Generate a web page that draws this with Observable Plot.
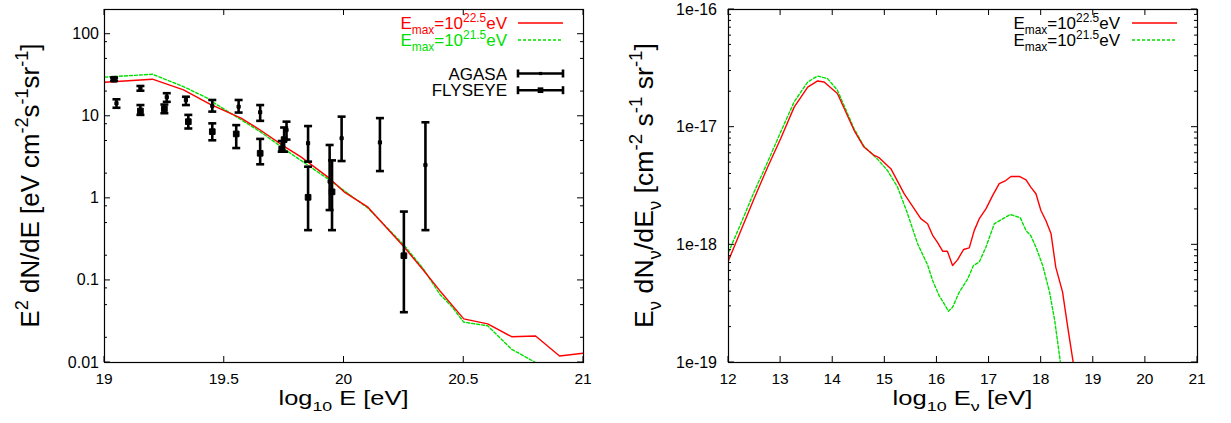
<!DOCTYPE html>
<html><head><meta charset="utf-8">
<script src="https://cdn.jsdelivr.net/npm/d3@7"></script>
<script src="https://cdn.jsdelivr.net/npm/@observablehq/plot@0.6"></script>
<style>
body{margin:0;background:#fff;}
#wrap{display:flex;width:1231px;height:423px;background:#fff;}
svg text{font-family:"Liberation Sans",Arial,Helvetica,sans-serif;white-space:pre;}
</style></head><body><div id="wrap"></div>
<script>
// ---------- Left panel: E^2 dN/dE vs log10 E ----------
const crLogE = [19.0, 19.2, 19.33, 19.44, 19.57, 19.65, 19.75, 19.82, 19.94, 20.0, 20.1, 20.25, 20.33, 20.4, 20.5, 20.6, 20.7, 20.8, 20.9, 21.0];
const crHigh = [26, 28.3, 21, 14.1, 9.5, 6.8, 4.3, 3.2, 1.75, 1.2, 0.78, 0.257, 0.135, 0.075, 0.034, 0.0295, 0.0206, 0.021, 0.012, 0.013];
const crLogE2 = [19.0, 19.2, 19.33, 19.43, 19.46, 19.65, 19.75, 19.82, 19.94, 20.1, 20.25, 20.33, 20.4, 20.45, 20.5, 20.6, 20.7, 20.8];
const crLow = [30, 32.5, 23, 16.6, 14.4, 6.5, 4.0, 2.9, 1.67, 0.76, 0.27, 0.14, 0.068, 0.048, 0.031, 0.028, 0.0145, 0.01];

const agasaE  = [19.05, 19.15, 19.26, 19.34, 19.45, 19.56, 19.65, 19.76, 19.85, 19.94, 19.99, 20.15, 20.34];
const agasaY  = [14.4, 21.9, 17.1, 15.8, 13.4, 13.1, 11.2, 6.8, 4.7, 1.6, 5.4, 4.8, 2.55];
const agasaLo = [12.7, 20.5, 15.0, 13.7, 11.4, 11.1, 8.8, 5.2, 2.8, 0.72, 2.85, 2.15, 0.41];
const agasaHi = [16.1, 23.4, 19.1, 17.3, 15.8, 15.8, 13.7, 8.6, 7.6, 4.47, 9.9, 9.5, 8.45];

const flyE  = [19.04, 19.15, 19.25, 19.35, 19.45, 19.55, 19.65, 19.75, 19.74, 19.85, 19.95, 20.25];
const flyY  = [28.3, 11.6, 12.3, 8.6, 6.5, 6.1, 3.54, 5.2, 4.0, 1.03, 1.2, 0.2];
const flyLo = [27.0, 10.4, 10.9, 7.1, 5.1, 4.1, 2.6, 3.7, 3.7, 0.41, 0.41, 0.041];
const flyHi = [29.6, 13.7, 13.9, 10.4, 8.2, 7.8, 5.3, 7.3, 5.0, 2.43, 2.9, 0.69];

const leftXTicks = [19, 19.5, 20, 20.5, 21];
const leftXLabels = ["19", "19.5", "20", "20.5", "21"];
const leftYTicks = [0.01, 0.1, 1, 10, 100];
const leftYLabels = ["0.01", "0.1", "1", "10", "100"];
const leftYMinorMult = [2, 5, 8];

// ---------- Right panel: neutrino flux ----------
const nuLogE1 = [12.0, 12.236, 12.49, 12.75, 13.0, 13.26, 13.52, 13.71, 13.835, 14.09, 14.41, 14.6, 14.795, 14.89, 15.115, 15.37, 15.69, 15.82, 15.915, 16.01, 16.11, 16.2, 16.3, 16.395, 16.51, 16.62, 16.715, 16.81, 16.94, 17.07, 17.195, 17.32, 17.42, 17.58, 17.71, 17.8, 17.9, 17.995, 18.09, 18.19, 18.28, 18.41, 18.51, 18.615];
const nuHigh = [7.35e-19, 1.32e-18, 2.46e-18, 4.57e-18, 7.98e-18, 1.48e-17, 2.19e-17, 2.47e-17, 2.42e-17, 1.93e-17, 9.4e-18, 6.78e-18, 5.75e-18, 5.5e-18, 4.44e-18, 2.72e-18, 1.67e-18, 1.51e-18, 1.21e-18, 1.05e-18, 8.83e-19, 8.83e-19, 6.67e-19, 7.45e-19, 9.12e-19, 9.42e-19, 1.32e-18, 1.66e-18, 2.02e-18, 2.63e-18, 3.31e-18, 3.52e-18, 3.81e-18, 3.81e-18, 3.57e-18, 3.09e-18, 2.72e-18, 1.96e-18, 1.61e-18, 1.24e-18, 6.46e-19, 3.98e-19, 2.0e-19, 1.0e-19];
const nuLogE2 = [12.0, 12.236, 12.49, 12.75, 13.0, 13.26, 13.52, 13.71, 13.9, 14.09, 14.41, 14.6, 14.85, 15.05, 15.245, 15.436, 15.63, 15.82, 15.915, 16.04, 16.14, 16.22, 16.3, 16.43, 16.59, 16.70, 16.81, 16.94, 17.10, 17.26, 17.405, 17.60, 17.71, 17.80, 17.90, 18.03, 18.16, 18.26, 18.37];
const nuLow = [8.65e-19, 1.51e-18, 2.81e-18, 5.05e-18, 9.08e-18, 1.64e-17, 2.42e-17, 2.72e-17, 2.59e-17, 2.06e-17, 9.7e-18, 6.87e-18, 5.4e-18, 4.29e-18, 3.09e-18, 1.84e-18, 1.02e-18, 6.76e-19, 5.01e-19, 3.72e-19, 3.15e-19, 2.72e-19, 2.95e-19, 3.98e-19, 5.13e-19, 6.67e-19, 7.11e-19, 9.55e-19, 1.51e-18, 1.66e-18, 1.81e-18, 1.70e-18, 1.32e-18, 1.2e-18, 9.55e-19, 6.67e-19, 3.98e-19, 2.27e-19, 1.0e-19];

const rightXTicks = [12, 13, 14, 15, 16, 17, 18, 19, 20, 21];
const rightXLabels = ["12", "13", "14", "15", "16", "17", "18", "19", "20", "21"];
const rightYTicks = [1e-19, 1e-18, 1e-17, 1e-16];
const rightYLabels = ["1e-19", "1e-18", "1e-17", "1e-16"];
const rightYMinorMult = [2, 3, 4, 5, 6, 7, 8, 9];

const legendLines = [
  {base: "E", sub: "max", mid: "=10", sup: "22.5", end: "eV"},
  {base: "E", sub: "max", mid: "=10", sup: "21.5", end: "eV"}
];

const RED = "#ff0000", GREEN = "#00e000";
const FONT = '"Liberation Sans", Arial, Helvetica, sans-serif';

const capSymbol = {draw(ctx, size) { const r = Math.sqrt(size / Math.PI); ctx.moveTo(-r, 0); ctx.lineTo(r, 0); }};

function errMarks(xs, ys, lo, hi, r) {
  const d = xs.map((x, i) => ({x, y: ys[i], lo: lo[i], hi: hi[i]}));
  return [
    Plot.ruleX(d, {x: "x", y1: "lo", y2: "hi", stroke: "#000", strokeWidth: 2.6}),
    Plot.dot(d, {x: "x", y: "lo", symbol: capSymbol, r: 4, stroke: "#000", strokeWidth: 2.6, fill: "none"}),
    Plot.dot(d, {x: "x", y: "hi", symbol: capSymbol, r: 4, stroke: "#000", strokeWidth: 2.6, fill: "none"}),
    Plot.dot(d, {x: "x", y: "y", symbol: "square", r, fill: "#000", stroke: "#000", strokeWidth: 1})
  ];
}

function rich(parent, parts, fs, attrs) {
  const t = parent.append("text").attr("font-size", fs).attr("font-family", FONT);
  for (const [k, v] of Object.entries(attrs)) t.attr(k, v);
  let shift = 0;
  for (const p of parts) {
    const target = p.sup ? -0.42 * fs : p.sub ? 0.3 * fs : 0;
    const ts = t.append("tspan").text(p.t).attr("dy", target - shift);
    if (p.sup || p.sub) ts.attr("font-size", 0.7 * fs);
    shift = target;
  }
  return t;
}
// font size fitted so that the text length matches
function fitRich(parent, parts, fs, attrs, targetLen) {
  let t = rich(parent, parts, fs, attrs);
  const len = t.node().getComputedTextLength();
  if (len > 0 && targetLen) {
    t.remove();
    t = rich(parent, parts, fs * targetLen / len, attrs);
  }
  return t;
}
// horizontal text at font size fs, stretched horizontally to a target length
function stretchRich(parent, parts, fs, x, y, targetLen) {
  const t = rich(parent, parts, fs, {x: 0, y: 0, "text-anchor": "middle", fill: "#000"});
  const len = t.node().getComputedTextLength();
  const k = len > 0 ? targetLen / len : 1;
  t.attr("transform", `translate(${x},${y}) scale(${k},1)`);
  return t;
}

function decorate(plot, o) {
  const svg = d3.select(plot);
  const sx = plot.scale("x"), sy = plot.scale("y");
  const xl = Math.min(...sx.range), xr = Math.max(...sx.range);
  const yt = Math.min(...sy.range), yb = Math.max(...sy.range);
  const g = svg.append("g").attr("stroke", "#000").attr("stroke-width", 1);
  const tick = (x1, y1, x2, y2) => g.append("line").attr("x1", x1).attr("y1", y1).attr("x2", x2).attr("y2", y2);
  o.xticks.forEach(v => { const x = sx.apply(v); tick(x, yb, x, yb - 6); tick(x, yt, x, yt + 6); });
  o.yticks.forEach(v => { const y = sy.apply(v); tick(xl, y, xl + 6, y); tick(xr, y, xr - 6, y); });
  const [d0, d1] = sy.domain;
  for (let e = Math.floor(Math.log10(d0)); e <= Math.ceil(Math.log10(d1)); e++) {
    o.yminor.forEach(m => {
      const v = m * Math.pow(10, e);
      if (v > d0 && v < d1) { const y = sy.apply(v); tick(xl, y, xl + 3, y); tick(xr, y, xr - 3, y); }
    });
  }
  const lab = svg.append("g").attr("font-family", FONT).attr("fill", "#000");
  o.xticks.forEach((v, i) => lab.append("text").attr("font-size", 15.5).attr("x", sx.apply(v)).attr("y", yb + 22).attr("text-anchor", "middle").text(o.xlabels[i]));
  o.yticks.forEach((v, i) => lab.append("text").attr("font-size", 16).attr("x", xl - o.ylabGap).attr("y", sy.apply(v) + 5.5).attr("text-anchor", "end").text(o.ylabels[i]));
  stretchRich(svg, o.xtitle, 19.5, (xl + xr) / 2, 405, o.xtitleLen);
  fitRich(svg, o.ytitle, 25, {transform: `translate(${o.ytitleX},${(yt + yb) / 2}) rotate(-90)`, "text-anchor": "middle", fill: "#000"}, o.ytitleLen);
  return svg;
}

function emaxLegend(svg, xText, xs0, xs1, colorsText, colorsLine, dashes) {
  legendLines.forEach((L, i) => {
    const yb = 29 + 17 * i, yl = 23 + 17 * i;
    rich(svg, [{t: L.base}, {t: L.sub, sub: true}, {t: L.mid}, {t: L.sup, sup: true}, {t: L.end}], 17,
      {x: xText, y: yb, "text-anchor": "end", fill: colorsText[i]});
    svg.append("line").attr("x1", xs0).attr("x2", xs1).attr("y1", yl).attr("y2", yl)
      .attr("stroke", colorsLine[i]).attr("stroke-width", 1.4).attr("stroke-dasharray", dashes[i]);
  });
}

const wrap = document.getElementById("wrap");

// ----- left plot -----
const left = Plot.plot({
  width: 615, height: 423,
  marginLeft: 104, marginRight: 32, marginTop: 9, marginBottom: 61,
  style: {background: "#fff", fontFamily: FONT},
  x: {domain: [19, 21], axis: null},
  y: {type: "log", domain: [0.01, 200], axis: null},
  marks: [
    Plot.line(crLogE2.map((x, i) => ({x, y: crLow[i]})), {x: "x", y: "y", stroke: GREEN, strokeWidth: 1.4, strokeDasharray: "3,2", clip: true}),
    Plot.line(crLogE.map((x, i) => ({x, y: crHigh[i]})), {x: "x", y: "y", stroke: RED, strokeWidth: 1.4, clip: true}),
    ...errMarks(agasaE, agasaY, agasaLo, agasaHi, 1.8),
    ...errMarks(flyE, flyY, flyLo, flyHi, 3.2),
    Plot.frame({stroke: "#000", strokeWidth: 1.2})
  ]
});
wrap.appendChild(left);
const ls = decorate(left, {
  xticks: leftXTicks, xlabels: leftXLabels, yticks: leftYTicks, ylabels: leftYLabels, yminor: leftYMinorMult, ylabGap: 5,
  xtitle: [{t: "log"}, {t: "10", sub: true}, {t: " E [eV]"}], xtitleLen: 130,
  ytitle: [{t: "E"}, {t: "2", sup: true}, {t: " dN/dE [eV cm"}, {t: "-2", sup: true}, {t: "s"}, {t: "-1", sup: true}, {t: "sr"}, {t: "-1", sup: true}, {t: "]"}],
  ytitleX: 39, ytitleLen: 284
});
emaxLegend(ls, 507, 518, 563, [RED, GREEN], [RED, GREEN], [null, "3,2"]);
const dataLegend = [{name: "AGASA", r: 1.8}, {name: "FLYSEYE", r: 3.2}];
dataLegend.forEach((D, i) => {
  const yc = 73.5 + 16.7 * i;
  ls.append("text").attr("x", 507).attr("y", yc + 6).attr("text-anchor", "end").attr("font-size", 17).attr("font-family", FONT).text(D.name);
  const g = ls.append("g").attr("stroke", "#000").attr("stroke-width", 2.6);
  g.append("line").attr("x1", 518).attr("x2", 563).attr("y1", yc).attr("y2", yc);
  g.append("line").attr("x1", 518).attr("x2", 518).attr("y1", yc - 4).attr("y2", yc + 4);
  g.append("line").attr("x1", 563).attr("x2", 563).attr("y1", yc - 4).attr("y2", yc + 4);
  const s = D.r * Math.sqrt(Math.PI);
  ls.append("rect").attr("x", 540.5 - s / 2).attr("y", yc - s / 2).attr("width", s).attr("height", s).attr("fill", "#000");
});

// ----- right plot -----
const right = Plot.plot({
  width: 616, height: 423,
  marginLeft: 113, marginRight: 34, marginTop: 9, marginBottom: 61,
  style: {background: "#fff", fontFamily: FONT},
  x: {domain: [12, 21], axis: null},
  y: {type: "log", domain: [1e-19, 1e-16], axis: null},
  marks: [
    Plot.line(nuLogE2.map((x, i) => ({x, y: nuLow[i]})), {x: "x", y: "y", stroke: GREEN, strokeWidth: 1.4, strokeDasharray: "3,2", clip: true}),
    Plot.line(nuLogE1.map((x, i) => ({x, y: nuHigh[i]})), {x: "x", y: "y", stroke: RED, strokeWidth: 1.4, clip: true}),
    Plot.frame({stroke: "#000", strokeWidth: 1.2})
  ]
});
wrap.appendChild(right);
const rs = decorate(right, {
  xticks: rightXTicks, xlabels: rightXLabels, yticks: rightYTicks, ylabels: rightYLabels, yminor: rightYMinorMult, ylabGap: 11,
  xtitle: [{t: "log"}, {t: "10", sub: true}, {t: " E"}, {t: "ν", sub: true}, {t: " [eV]"}], xtitleLen: 140,
  ytitle: [{t: "E"}, {t: "ν", sub: true}, {t: " dN"}, {t: "ν", sub: true}, {t: "/dE"}, {t: "ν", sub: true}, {t: " [cm"}, {t: "-2", sup: true}, {t: " s"}, {t: "-1", sup: true}, {t: " sr"}, {t: "-1", sup: true}, {t: "]"}],
  ytitleX: 653 - 615, ytitleLen: 285
});
emaxLegend(rs, 1120 - 615, 1132 - 615, 1177 - 615, ["#000", "#000"], [RED, GREEN], [null, "3,2"]);
</script></body></html>
